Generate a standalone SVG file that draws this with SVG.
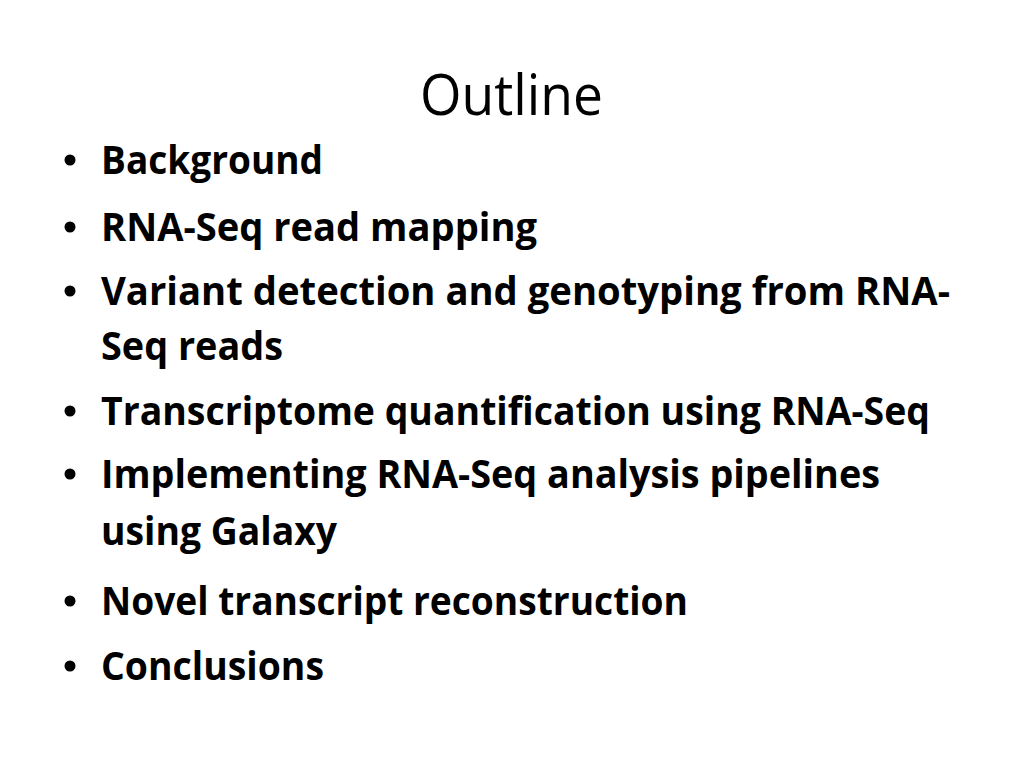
<svg xmlns="http://www.w3.org/2000/svg" width="1024" height="768" viewBox="0 0 1024 768">
  <style>
    .title { font-family: "Open Sans", "Liberation Sans", sans-serif; font-size: 56px; fill: #000; }
    .item { font-family: "Open Sans", "Liberation Sans", sans-serif; font-weight: bold; font-size: 39px; fill: #000; }
    .dot { fill: #000; }
  </style>
  <rect x="0" y="0" width="1024" height="768" fill="#ffffff"/>
  <g id="title">
    <text class="title" x="420" y="115" textLength="183" lengthAdjust="spacingAndGlyphs">Outline</text>
  </g>
  <g id="bullets">
    <circle class="dot" cx="70" cy="160" r="5.5"/>
    <circle class="dot" cx="70" cy="227" r="5.5"/>
    <circle class="dot" cx="70" cy="291" r="5.5"/>
    <circle class="dot" cx="70" cy="411" r="5.5"/>
    <circle class="dot" cx="70" cy="474" r="5.5"/>
    <circle class="dot" cx="70" cy="601" r="5.5"/>
    <circle class="dot" cx="70" cy="666" r="5.5"/>
  </g>
  <g id="items">
    <text class="item" x="101" y="174" textLength="222" lengthAdjust="spacingAndGlyphs">Background</text>
    <text class="item" x="101" y="241" textLength="436" lengthAdjust="spacingAndGlyphs">RNA-Seq read mapping</text>
    <text class="item" x="101" y="305" textLength="849" lengthAdjust="spacingAndGlyphs">Variant detection and genotyping from RNA-</text>
    <text class="item" x="101" y="360" textLength="182" lengthAdjust="spacingAndGlyphs">Seq reads</text>
    <text class="item" x="101" y="425" textLength="829" lengthAdjust="spacingAndGlyphs">Transcriptome quantification using RNA-Seq</text>
    <text class="item" x="101" y="488" textLength="779" lengthAdjust="spacingAndGlyphs">Implementing RNA-Seq analysis pipelines</text>
    <text class="item" x="101" y="545" textLength="236" lengthAdjust="spacingAndGlyphs">using Galaxy</text>
    <text class="item" x="101" y="615" textLength="587" lengthAdjust="spacingAndGlyphs">Novel transcript reconstruction</text>
    <text class="item" x="101" y="680" textLength="223" lengthAdjust="spacingAndGlyphs">Conclusions</text>
  </g>
</svg>
